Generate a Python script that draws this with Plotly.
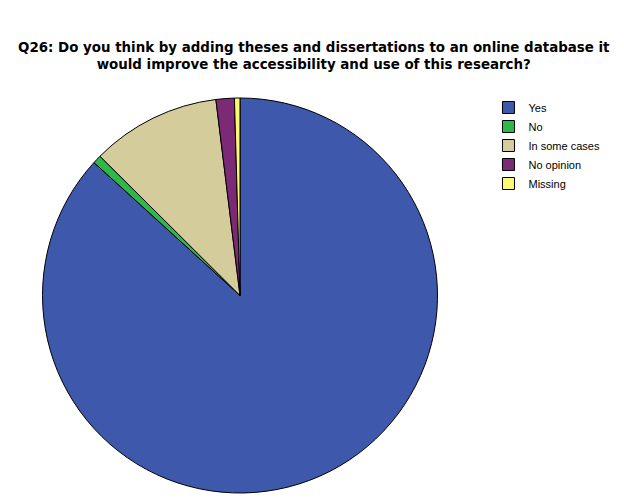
import plotly.graph_objects as go

# Survey answers for Q26
labels = ["Yes", "No", "In some cases", "No opinion", "Missing"]
values = [86.8, 0.7, 10.6, 1.5, 0.45]
colors = ["#3E58AC", "#2EB848", "#D4CC9A", "#7C2976", "#FBF873"]

fig = go.Figure(
    go.Pie(
        labels=labels,
        values=values,
        sort=False,
        direction="clockwise",
        rotation=0,
        textinfo="none",
        hoverinfo="label+percent",
        marker=dict(colors=colors, line=dict(color="black", width=1)),
        domain=dict(x=[0.0553, 0.6883], y=[0.030, 0.820]),
    )
)

fig.update_layout(
    width=624,
    height=500,
    margin=dict(l=0, r=0, t=0, b=0),
    paper_bgcolor="white",
    plot_bgcolor="white",
    font=dict(family="Arial, Liberation Sans, sans-serif", color="black"),
    title=dict(
        text="<b>Q26: Do you think by adding theses and dissertations to an online database it<br>would improve the accessibility and use of this research?</b>",
        x=0.49,
        xanchor="center",
        y=0.912,
        yanchor="middle",
        font=dict(family="DejaVu Sans", size=13.4),
    ),
    legend=dict(
        x=0.77,
        y=0.83,
        xanchor="left",
        yanchor="top",
        font=dict(size=11),
        tracegroupgap=0,
        itemwidth=30,
    ),
)

fig.write_html("out.html")
